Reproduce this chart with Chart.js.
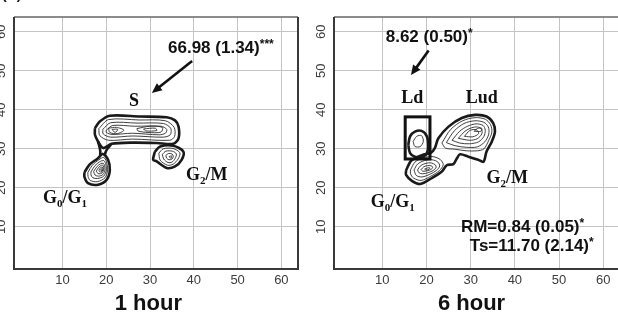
<!DOCTYPE html>
<html>
<head>
<meta charset="utf-8">
<script src="https://cdn.jsdelivr.net/npm/chart.js@4.4.0/dist/chart.umd.min.js"></script>
<style>
  html, body { margin: 0; padding: 0; background: #fff; overflow: hidden; width: 618px; height: 312px; }
  canvas { position: absolute; top: 0; }
  #chart1h { left: 0; }
  #chart6h { left: 308px; }
</style>
</head>
<body>
<canvas id="chart1h" width="308" height="312"></canvas>
<canvas id="chart6h" width="320" height="312"></canvas>
<script>
// Flow cytometry contour plots, 1 hour vs 6 hour

const TICK_VALUES = [10, 20, 30, 40, 50, 60];
const PANEL_TITLES = ["1 hour", "6 hour"];

// ---- 1 hour panel: contour rings [x, y] ----
const S_OUTER   = [[17.4,35.3],[18.5,37.0],[20.8,38.5],[27.7,38.3],[33.8,38.1],[35.7,37.3],[36.5,35.7],[36.5,32.7],[35.3,31.3],[31.5,31.5],[26.2,31.6],[21.2,31.3],[19.3,30.2],[18.1,31.9],[17.4,33.6]];
const S_RING2   = [[18.3,35.2],[20.5,37.5],[27.5,37.4],[33.5,37.2],[35.5,35.5],[35.6,33.2],[34.5,32.2],[26.0,32.5],[20.5,32.2],[18.5,33.4]];
const S_RING3   = [[19.2,35.0],[21.0,36.7],[27.0,36.6],[33.0,36.5],[34.7,35.3],[34.6,33.6],[33.0,33.0],[26.0,33.3],[21.0,33.0],[19.3,33.8]];
const S_RING4   = [[20.0,34.8],[21.5,36.0],[26.5,35.8],[32.5,35.8],[33.8,35.0],[33.5,34.0],[32.0,33.6],[26.0,34.0],[21.3,33.7],[20.0,34.2]];
const S_PEAK1A  = [[20.5,35.3],[22.3,35.5],[24.0,34.8],[22.5,33.9],[20.8,34.2]];
const S_PEAK1B  = [[21.3,35.0],[22.6,35.0],[22.0,34.2]];
const S_PEAK2A  = [[27.0,35.2],[30.0,35.8],[32.8,35.5],[32.5,34.3],[29.5,34.2],[27.2,34.6]];
const S_PEAK2B  = [[28.5,35.1],[31.2,35.3],[31.5,34.7],[29.0,34.6]];
const NECK_A    = [[18.1,31.9],[18.6,29.6],[18.6,28.3]];
const NECK_B    = [[21.2,31.3],[20.1,29.8],[19.6,28.5]];
const G1_OUTER  = [[15.0,24.0],[16.2,26.0],[18.1,27.6],[19.2,28.7],[20.4,27.2],[20.8,24.6],[20.1,22.1],[18.1,20.8],[15.8,21.2],[15.0,22.8]];
const G1_RING2  = [[15.8,24.0],[16.8,25.8],[18.3,27.2],[19.4,27.8],[20.0,26.8],[20.3,24.6],[19.7,22.6],[18.0,21.6],[16.3,21.9],[15.8,23.0]];
const G1_RING3  = [[16.5,24.1],[17.4,25.7],[18.5,26.7],[19.4,27.0],[19.8,26.3],[20.0,24.6],[19.4,23.0],[18.0,22.4],[16.9,22.6],[16.5,23.3]];
const G1_RING4  = [[17.1,24.2],[17.9,25.5],[18.7,26.2],[19.3,26.3],[19.6,25.7],[19.7,24.6],[19.2,23.4],[18.2,23.0],[17.4,23.3]];
const G1_RING5  = [[17.7,24.3],[18.3,25.3],[18.9,25.8],[19.3,25.7],[19.4,24.7],[19.0,23.8],[18.3,23.6],[17.9,23.9]];
const G1_RING6  = [[18.3,24.5],[18.7,25.2],[19.1,25.3],[19.2,24.6],[18.9,24.1],[18.5,24.1]];
const G1_RING7  = [[18.7,24.7],[19.0,24.9],[19.0,24.4],[18.8,24.4]];
const G2_OUTER  = [[31.1,29.3],[32.3,30.6],[35.3,30.8],[37.6,29.3],[37.2,27.2],[35.7,25.5],[33.8,25.1],[31.5,26.8],[30.7,27.2]];
const G2_RING2  = [[32.0,28.9],[33.0,30.0],[35.2,30.1],[36.8,29.0],[36.4,27.4],[35.3,26.1],[34.0,25.8],[32.3,27.1]];
const G2_RING3  = [[32.8,28.6],[33.6,29.4],[35.1,29.4],[36.0,28.7],[35.7,27.5],[35.0,26.6],[34.1,26.5],[33.1,27.4]];
const G2_RING4  = [[33.6,28.3],[34.2,28.8],[35.0,28.7],[35.3,28.1],[35.0,27.4],[34.3,27.2],[33.8,27.6]];
const G2_RING5  = [[34.3,28.0],[34.9,28.2],[34.8,27.6]];

// ---- 6 hour panel: contour rings [x, y] ----
const H6_OUTER  = [[15.4,24.5],[16.6,27.0],[19.0,28.4],[21.0,29.0],[21.9,30.2],[22.7,32.7],[25.0,35.7],[28.0,37.9],[31.0,38.7],[33.6,38.3],[35.1,36.6],[35.5,34.4],[34.8,31.9],[33.6,29.3],[32.9,26.7],[31.7,27.2],[29.5,28.0],[27.6,28.6],[26.9,27.6],[26.1,26.1],[24.6,25.8],[23.5,24.2],[21.2,22.5],[18.6,21.0],[16.7,21.8],[15.4,23.3]];
const LUD_RING2 = [[23.5,31.5],[25.5,35.0],[28.2,37.2],[31.0,38.0],[33.3,37.6],[34.5,36.2],[34.8,34.3],[34.1,32.2],[33.0,30.0],[31.5,29.5],[29.0,29.5],[26.5,29.9],[24.3,30.2]];
const LUD_RING3 = [[24.5,31.6],[26.3,34.6],[28.5,36.5],[31.0,37.2],[33.0,36.8],[34.0,35.6],[34.1,33.8],[33.2,31.8],[31.5,30.5],[29.0,30.4],[26.5,30.8]];
const LUD_RING4 = [[25.8,32.2],[27.5,34.5],[29.3,35.8],[31.2,36.4],[32.8,36.0],[33.3,34.8],[33.0,33.2],[31.8,31.8],[29.7,31.3],[27.5,31.5]];
const LUD_RING5 = [[27.2,32.7],[28.7,34.5],[30.2,35.4],[31.6,35.6],[32.5,35.0],[32.5,33.8],[31.5,32.6],[29.8,32.2]];
const LUD_RING6 = [[28.6,33.2],[29.8,34.7],[31.3,34.9],[31.8,33.9],[30.5,33.1]];
const LUD_RING7 = [[30.8,34.5],[31.5,35.2],[32.5,35.3],[32.3,34.5]];
const LOW_RING2 = [[16.4,24.6],[17.4,26.6],[19.3,27.7],[21.5,28.0],[23.2,27.2],[23.8,25.9],[22.9,24.4],[21.0,23.0],[18.8,21.9],[17.1,22.5],[16.4,23.6]];
const LOW_RING3 = [[17.2,24.6],[18.0,26.1],[19.6,27.0],[21.3,27.2],[22.6,26.6],[23.0,25.6],[22.3,24.5],[20.8,23.5],[19.0,22.8],[17.7,23.2]];
const LOW_RING4 = [[18.0,24.6],[18.7,25.7],[19.9,26.3],[21.1,26.4],[22.0,25.9],[22.2,25.3],[21.6,24.5],[20.4,23.9],[19.1,23.6],[18.3,23.9]];
const LOW_RING5 = [[18.8,24.7],[19.4,25.4],[20.3,25.7],[21.2,25.6],[21.4,25.1],[20.8,24.6],[19.8,24.3],[19.1,24.3]];
const LOW_RING6 = [[19.6,24.8],[20.2,25.1],[20.8,25.1],[20.5,24.7],[19.9,24.6]];
const LD_OUTER  = [[15.9,31.0],[16.3,33.2],[17.4,34.4],[18.9,34.6],[20.1,33.2],[20.4,30.6],[20.1,28.9],[19.3,28.0],[17.4,28.0],[16.3,28.9]];
const LD_RING2  = [[17.0,31.9],[17.8,33.2],[18.9,33.4],[19.3,31.9],[18.6,30.6],[17.4,30.6]];
const LD_GATE   = [15.2, 27.4, 20.8, 38.2]; // x1, y1, x2, y2

const THICK = 2.6, THIN = 0.9;

function ring(points, width, closed = true) {
  const pts = points.map(p => ({ x: p[0], y: p[1] }));
  if (closed) pts.push({ x: points[0][0], y: points[0][1] });
  return {
    data: pts,
    showLine: true,
    borderColor: width > 2 ? '#1a1a1a' : '#2a2a2a',
    borderWidth: width,
    pointRadius: 0,
    tension: 0.3,
    fill: false
  };
}

const datasets1h = [
  ring(S_OUTER, THICK), ring(S_RING2, THIN), ring(S_RING3, THIN), ring(S_RING4, THIN),
  ring(S_PEAK1A, THIN), ring(S_PEAK1B, THIN), ring(S_PEAK2A, THIN), ring(S_PEAK2B, THIN),
  ring(NECK_A, THICK, false), ring(NECK_B, THICK, false),
  ring(G1_OUTER, THICK), ring(G1_RING2, THIN), ring(G1_RING3, THIN), ring(G1_RING4, THIN),
  ring(G1_RING5, THIN), ring(G1_RING6, THIN), ring(G1_RING7, THIN),
  ring(G2_OUTER, THICK), ring(G2_RING2, THIN), ring(G2_RING3, THIN), ring(G2_RING4, THIN), ring(G2_RING5, THIN)
];

const datasets6h = [
  ring(H6_OUTER, THICK),
  ring(LUD_RING2, THIN), ring(LUD_RING3, THIN), ring(LUD_RING4, THIN), ring(LUD_RING5, THIN), ring(LUD_RING6, THIN), ring(LUD_RING7, THIN),
  ring(LOW_RING2, THIN), ring(LOW_RING3, THIN), ring(LOW_RING4, THIN), ring(LOW_RING5, THIN), ring(LOW_RING6, THIN),
  ring(LD_OUTER, THICK), ring(LD_RING2, THIN)
];

const SANS = '"Liberation Sans", Arial, sans-serif';
const SERIF = '"Liberation Serif", "Times New Roman", serif';
const BIG = 'bold 17px ' + SANS;
const STAR = 'bold 12px ' + SANS;
const LBL = 'bold 18px ' + SERIF;
const SUB = 'bold 11px ' + SERIF;

// annotation runs: [text, font, dy]
const notes1h = [
  { x: 34.1, y: 54.6, runs: [['66.98 (1.34)', BIG, 0], ['***', STAR, -5]] },
  { x: 25.2, y: 41.0, runs: [['S', LBL, 0]] },
  { x: 5.5,  y: 16.1, runs: [['G', LBL, 0], ['0', SUB, 4], ['/', LBL, 0], ['G', LBL, 0], ['1', SUB, 4]] },
  { x: 38.2, y: 22.0, runs: [['G', LBL, 0], ['2', SUB, 4], ['/M', LBL, 0]] }
];
const notes6h = [
  { x: 10.8, y: 57.5, runs: [['8.62 (0.50)', BIG, 0], ['*', STAR, -5]] },
  { x: 14.3, y: 41.8, runs: [['Ld', LBL, 0]] },
  { x: 28.9, y: 41.8, runs: [['Lud', LBL, 0]] },
  { x: 33.6, y: 21.2, runs: [['G', LBL, 0], ['2', SUB, 4], ['/M', LBL, 0]] },
  { x: 7.4,  y: 15.2, runs: [['G', LBL, 0], ['0', SUB, 4], ['/', LBL, 0], ['G', LBL, 0], ['1', SUB, 4]] },
  { x: 27.8, y: 8.8,  runs: [['RM=0.84 (0.05)', BIG, 0], ['*', STAR, -5]] },
  { x: 29.8, y: 3.9,  runs: [['Ts=11.70 (2.14)', BIG, 0], ['*', STAR, -5]] }
];
const arrow1h = [39.6, 52.5, 30.4, 44.3];
const arrow6h = [20.5, 55.2, 16.5, 48.9];

function drawRuns(ctx, x, y, runs) {
  ctx.textAlign = 'left';
  ctx.textBaseline = 'alphabetic';
  runs.forEach(([t, font, dy]) => {
    ctx.font = font;
    ctx.fillText(t, x, y + dy);
    x += ctx.measureText(t).width;
  });
}

function drawArrow(ctx, x1, y1, x2, y2) {
  const ang = Math.atan2(y2 - y1, x2 - x1);
  const len = 10, half = 4.5;
  ctx.strokeStyle = '#111';
  ctx.fillStyle = '#111';
  ctx.lineWidth = 2.6;
  ctx.beginPath();
  ctx.moveTo(x1, y1);
  ctx.lineTo(x2 - Math.cos(ang) * len * 0.8, y2 - Math.sin(ang) * len * 0.8);
  ctx.stroke();
  ctx.beginPath();
  ctx.moveTo(x2, y2);
  ctx.lineTo(x2 - Math.cos(ang) * len - Math.sin(ang) * half, y2 - Math.sin(ang) * len + Math.cos(ang) * half);
  ctx.lineTo(x2 - Math.cos(ang) * len + Math.sin(ang) * half, y2 - Math.sin(ang) * len - Math.cos(ang) * half);
  ctx.closePath();
  ctx.fill();
}

// Frame, tick labels, titles and annotations
const decor = {
  id: 'decor',
  afterDraw(chart, args, opts) {
    const { ctx, chartArea: a, scales: { x, y } } = chart;
    ctx.save();

    // frame
    ctx.lineWidth = 2;
    ctx.strokeStyle = '#8c8c8c';
    ctx.beginPath(); ctx.moveTo(a.left, a.top); ctx.lineTo(a.right, a.top); ctx.stroke();
    ctx.strokeStyle = '#3a3a3a';
    ctx.beginPath();
    ctx.moveTo(a.left, a.top); ctx.lineTo(a.left, a.bottom); ctx.lineTo(a.right, a.bottom);
    if (opts.rightBorder) ctx.lineTo(a.right, a.top);
    ctx.stroke();

    // tick labels
    ctx.fillStyle = '#3c3c3c';
    ctx.font = '13px ' + SANS;
    ctx.textAlign = 'center';
    ctx.textBaseline = 'middle';
    TICK_VALUES.forEach(v => {
      ctx.fillText(String(v), x.getPixelForValue(v), a.bottom + 11);
      ctx.save();
      ctx.translate(a.left - 13, y.getPixelForValue(v));
      ctx.rotate(-Math.PI / 2);
      ctx.fillText(String(v), 0, 0);
      ctx.restore();
    });

    // panel title
    ctx.fillStyle = '#111';
    ctx.font = 'bold 22px ' + SANS;
    ctx.textBaseline = 'alphabetic';
    ctx.fillText(opts.title, x.getPixelForValue(opts.titleX), a.bottom + 41);

    // gate rectangle
    if (opts.gate) {
      const [gx1, gy1, gx2, gy2] = opts.gate;
      ctx.strokeStyle = '#111';
      ctx.lineWidth = 3;
      const px1 = x.getPixelForValue(gx1), px2 = x.getPixelForValue(gx2);
      const py1 = y.getPixelForValue(gy2), py2 = y.getPixelForValue(gy1);
      ctx.strokeRect(px1, py1, px2 - px1, py2 - py1);
    }

    // arrow
    const [ax1, ay1, ax2, ay2] = opts.arrow;
    drawArrow(ctx, x.getPixelForValue(ax1), y.getPixelForValue(ay1), x.getPixelForValue(ax2), y.getPixelForValue(ay2));

    // annotations
    ctx.fillStyle = '#111';
    opts.notes.forEach(n => drawRuns(ctx, x.getPixelForValue(n.x), y.getPixelForValue(n.y), n.runs));

    // panel letter, mostly cut off at the top edge
    if (opts.corner) {
      ctx.font = 'bold 14px ' + SANS;
      ctx.textAlign = 'left';
      ctx.fillText(opts.corner, 2, -1);
    }
    ctx.restore();
  }
};

function makePanel(canvasId, datasets, xMin, xMax, yAxisWidth, padRight, decorOpts) {
  return new Chart(document.getElementById(canvasId), {
    type: 'scatter',
    data: { datasets },
    options: {
      responsive: false,
      animation: false,
      events: [],
      layout: { padding: { top: 17, right: padRight, left: 0, bottom: 0 } },
      plugins: { legend: { display: false }, tooltip: { enabled: false }, decor: decorOpts },
      scales: {
        x: {
          type: 'linear', min: xMin, max: xMax,
          afterBuildTicks: s => { s.ticks = TICK_VALUES.map(v => ({ value: v })); },
          afterFit: s => { s.height = 43; },
          ticks: { display: false },
          grid: { color: '#c4c4c4', lineWidth: 1, drawTicks: false },
          border: { display: false }
        },
        y: {
          type: 'linear', min: -0.8, max: 63.8,
          afterBuildTicks: s => { s.ticks = TICK_VALUES.map(v => ({ value: v })); },
          afterFit: s => { s.width = yAxisWidth; },
          ticks: { display: false },
          grid: { color: '#c4c4c4', lineWidth: 1, drawTicks: false },
          border: { display: false }
        }
      }
    },
    plugins: [decor]
  });
}

makePanel('chart1h', datasets1h, -1.1, 63.8, 14, 10, {
  title: PANEL_TITLES[0], titleX: 29.6, notes: notes1h, arrow: arrow1h, rightBorder: true, corner: '(A)'
});
makePanel('chart6h', datasets6h, -0.9, 64, 26, 7, {
  title: PANEL_TITLES[1], titleX: 30.2, notes: notes6h, arrow: arrow6h, gate: LD_GATE, rightBorder: false
});
</script>
</body>
</html>
